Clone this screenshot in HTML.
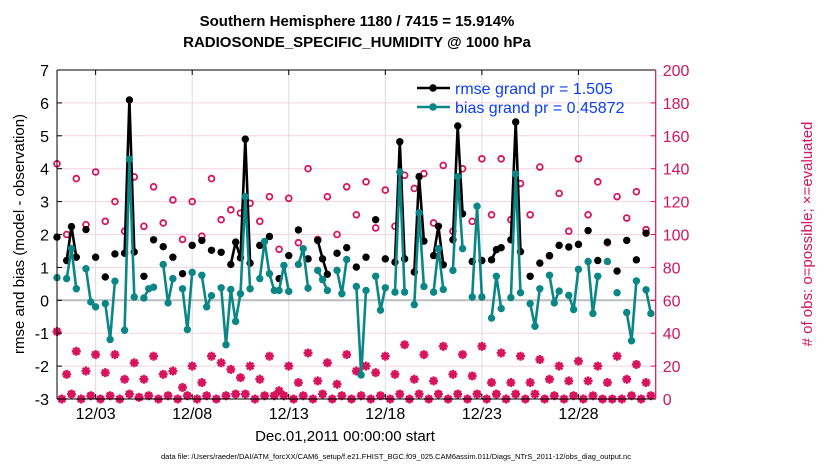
<!DOCTYPE html>
<html><head><meta charset="utf-8"><style>
body{margin:0;background:#fff}
svg{font-family:"Liberation Sans",Arial,sans-serif}
</style></head><body>
<svg id="c" width="830" height="470" viewBox="0 0 830 470" xmlns="http://www.w3.org/2000/svg">
<rect width="830" height="470" fill="#fff"/>
<g id="grid"></g>
<g id="marks"></g>
<g id="axes"></g>
<text x="357" y="26" text-anchor="middle" font-size="15" font-weight="bold">Southern Hemisphere 1180 / 7415 = 15.914%</text>
<text x="357" y="47" text-anchor="middle" font-size="15" font-weight="bold">RADIOSONDE_SPECIFIC_HUMIDITY @ 1000 hPa</text>
<text transform="translate(24,234) rotate(-90)" text-anchor="middle" font-size="15">rmse and bias (model - observation)</text>
<text transform="translate(812,234) rotate(-90)" text-anchor="middle" font-size="15" fill="#d6135c"># of obs: o=possible; ×=evaluated</text>
<text x="345" y="441" text-anchor="middle" font-size="15">Dec.01,2011 00:00:00 start</text>
<text x="396" y="459" text-anchor="middle" font-size="7.5">data file: /Users/raeder/DAI/ATM_forcXX/CAM6_setup/f.e21.FHIST_BGC.f09_025.CAM6assim.011/Diags_NTrS_2011-12/obs_diag_output.nc</text>
<g>
<line x1="417" y1="88" x2="450" y2="88" stroke="#000" stroke-width="2.5"/><circle cx="433" cy="88" r="3.8" fill="#000"/>
<text x="455" y="94" font-size="16" fill="#0a3cff">rmse grand pr = 1.505</text>
<line x1="417" y1="107" x2="450" y2="107" stroke="#0b8686" stroke-width="2.5"/><circle cx="433" cy="107" r="3.8" fill="#0b8686"/>
<text x="455" y="113" font-size="16" fill="#0a3cff">bias grand pr = 0.45872</text>
</g>
</svg>
<script>
const rmse=[1.92,null,1.21,2.24,1.31,null,2.15,null,1.31,null,
0.71,null,1.41,null,1.43,6.09,1.47,null,0.73,null,
1.84,null,1.63,null,1.31,null,0.81,null,1.67,null,
1.82,null,1.52,null,1.46,null,1.09,1.77,1.29,4.9,
1.13,null,1.67,null,1.94,null,0.66,null,1.36,null,
2.14,null,1.26,null,1.82,1.26,0.79,null,1.43,null,
1.6,null,1.01,null,1.31,null,2.45,null,1.26,null,
1.16,4.82,1.26,null,0.86,3.76,1.8,null,1.36,2.25,
1.08,null,1.84,5.3,2.63,null,1.18,null,1.21,null,
1.23,1.54,1.6,null,1.84,5.42,1.48,null,0.73,null,
1.13,null,1.36,null,1.67,null,1.62,null,1.7,null,
2.12,null,1.21,null,1.77,null,0.89,null,1.82,null,
1.23,null,2.04,null];
const bias=[0.69,null,0.66,1.57,0.35,null,0.96,-0.05,-0.2,null,
-0.1,-1.19,0.58,null,-0.91,4.29,0.1,null,0.07,0.35,
0.4,null,1.09,-0.08,0.66,null,0.35,-0.89,0.85,null,
0.76,-0.2,0.14,null,0.38,-1.35,0.33,-0.64,0.2,3.15,
0.35,null,0.66,1.79,0.81,0.3,0.3,1.06,0.27,null,
1.09,1.57,0.37,null,0.91,0.63,0.3,null,0.91,0.2,
1.24,null,0.42,-2.27,0.3,null,0.73,-0.3,0.38,null,
0.25,3.9,0.25,null,-0.13,2.66,0.42,null,0.25,1.57,
0.33,null,0.91,3.76,1.57,null,0.1,2.86,0.1,null,
-0.54,0.73,-0.25,null,0.08,3.84,0.23,null,-0.1,-0.79,
0.35,null,0.76,-0.08,0.28,null,0.15,-0.28,0.94,null,
1.18,-0.4,0.73,null,1.18,null,0.23,null,-0.37,-1.23,
0.59,null,0.32,-0.4];
const possible=[143,0,100,3,134,0,106,2,138,0,
108,2,120,0,102,3,135,1,105,2,
129,0,107,2,121,0,97,2,120,0,
99,2,134,0,109,2,115,3,113,3,
119,0,108,2,123,2,91,2,122,0,
95,2,140,0,97,3,123,0,100,2,
129,0,112,2,132,0,104,2,127,0,
105,3,136,0,128,3,137,0,107,3,
142,0,102,3,140,0,108,3,146,0,
112,3,146,0,109,3,131,0,112,3,
141,0,87,2,125,0,102,2,146,0,
112,2,132,0,95,0,123,0,110,2,
126,0,103,2];
const evaluated=[41,0,15,3,29,0,17,2,27,0,
16,2,27,0,12,3,22,1,12,2,
26,0,15,2,17,0,7,2,20,0,
10,2,26,0,22,2,18,3,13,3,
20,0,12,2,26,2,5,2,20,0,
10,2,28,0,11,3,22,0,9,2,
27,0,17,2,20,0,16,2,26,0,
15,3,33,0,12,3,27,0,11,3,
32,0,15,3,27,0,14,3,32,0,
10,3,28,0,10,3,26,0,10,3,
24,0,12,2,20,0,11,2,23,0,
11,2,20,0,10,0,26,0,12,2,
21,0,10,2];
const yTicks=[-3,-2,-1,0,1,2,3,4,5,6,7];
const countTicks=[0,20,40,60,80,100,120,140,160,180,200];
const xTickLabels=["12/03","12/08","12/13","12/18","12/23","12/28"];
const xTickIdx=[8,28,48,68,88,108];

const L=57,R=655.7,T=70,B=399,NS=124;
const X=i=>L+i*(R-L)/NS;
const Y=v=>T+(7-v)*(B-T)/10;
const YC=c=>B-c*(B-T)/200;
const NS_="http://www.w3.org/2000/svg";
function mk(tag,attrs,parent){const e=document.createElementNS(NS_,tag);for(const k in attrs)e.setAttribute(k,attrs[k]);parent.appendChild(e);return e;}
const grid=document.getElementById('grid'),marks=document.getElementById('marks'),axes=document.getElementById('axes');

yTicks.forEach(v=>{
 if(v>-3&&v<7){const g=mk('line',{x1:L,x2:R,y1:Y(v),y2:Y(v),stroke:'#f5d3e1','stroke-width':1},grid);
 
 }
 const t=mk('text',{x:L-8,y:Y(v)+6,'text-anchor':'end','font-size':16},axes);t.textContent=v;
 
 
 mk('line',{x1:L,x2:L+5,y1:Y(v),y2:Y(v),stroke:'#000'},axes);
});
countTicks.forEach(c=>{
 const t=mk('text',{x:R+7,y:YC(c)+6,'font-size':16,fill:'#d6135c'},axes);t.textContent=c;
 
 
 mk('line',{x1:R-5,x2:R,y1:YC(c),y2:YC(c),stroke:'#d6135c'},axes);
});
xTickIdx.forEach((i,k)=>{
 const g=mk('line',{x1:X(i),x2:X(i),y1:T,y2:B,stroke:'#dcdcdc','stroke-width':1},grid);
 
 
 mk('line',{x1:X(i),x2:X(i),y1:B,y2:B-5,stroke:'#000'},axes);
 mk('line',{x1:X(i),x2:X(i),y1:T,y2:T+5,stroke:'#000'},axes);
 const t=mk('text',{x:X(i),y:419,'text-anchor':'middle','font-size':16},axes);t.textContent=xTickLabels[k];
 
 
});
const zl=mk('line',{x1:L,x2:R,y1:Y(0),y2:Y(0),stroke:'#bdbdbd','stroke-width':2},grid);



possible.forEach((c,i)=>{
 const e=mk('circle',{cx:X(i),cy:YC(c),r:2.9,fill:'none',stroke:'#d6135c','stroke-width':1.8},marks);
 
 
});
evaluated.forEach((c,i)=>{
 const x=X(i),y=YC(c),s=4.5,d=3.2;
 const g=mk('path',{d:`M${x-s},${y}H${x+s}M${x},${y-s}V${y+s}M${x-d},${y-d}L${x+d},${y+d}M${x-d},${y+d}L${x+d},${y-d}`,stroke:'#d6135c','stroke-width':2.4,fill:'none'},marks);
 
 
});
function series(arr,color,name){
 let d='';
 arr.forEach((v,i)=>{if(v===null)return;const prev=i>0?arr[i-1]:null;d+=(prev===null?'M':'L')+X(i).toFixed(1)+','+Y(v).toFixed(1);});
 const p=mk('path',{d:d,stroke:color,'stroke-width':2.6,fill:'none','stroke-linejoin':'round'},marks);
 
 
 arr.forEach((v,i)=>{if(v===null)return;
  const c=mk('circle',{cx:X(i),cy:Y(v),r:3.7,fill:color},marks);
  
  });
}
series(rmse,'#000','rmse');
series(bias,'#0b8686','bias');

mk('line',{x1:L,x2:R,y1:T,y2:T,stroke:'#000','stroke-width':1},axes);
mk('line',{x1:L,x2:R,y1:B,y2:B,stroke:'#000','stroke-width':1},axes);
mk('line',{x1:L,x2:L,y1:T,y2:B,stroke:'#000','stroke-width':1},axes);
mk('line',{x1:R,x2:R,y1:T,y2:B,stroke:'#d6135c','stroke-width':1.2},axes);
</script>
</body></html>
